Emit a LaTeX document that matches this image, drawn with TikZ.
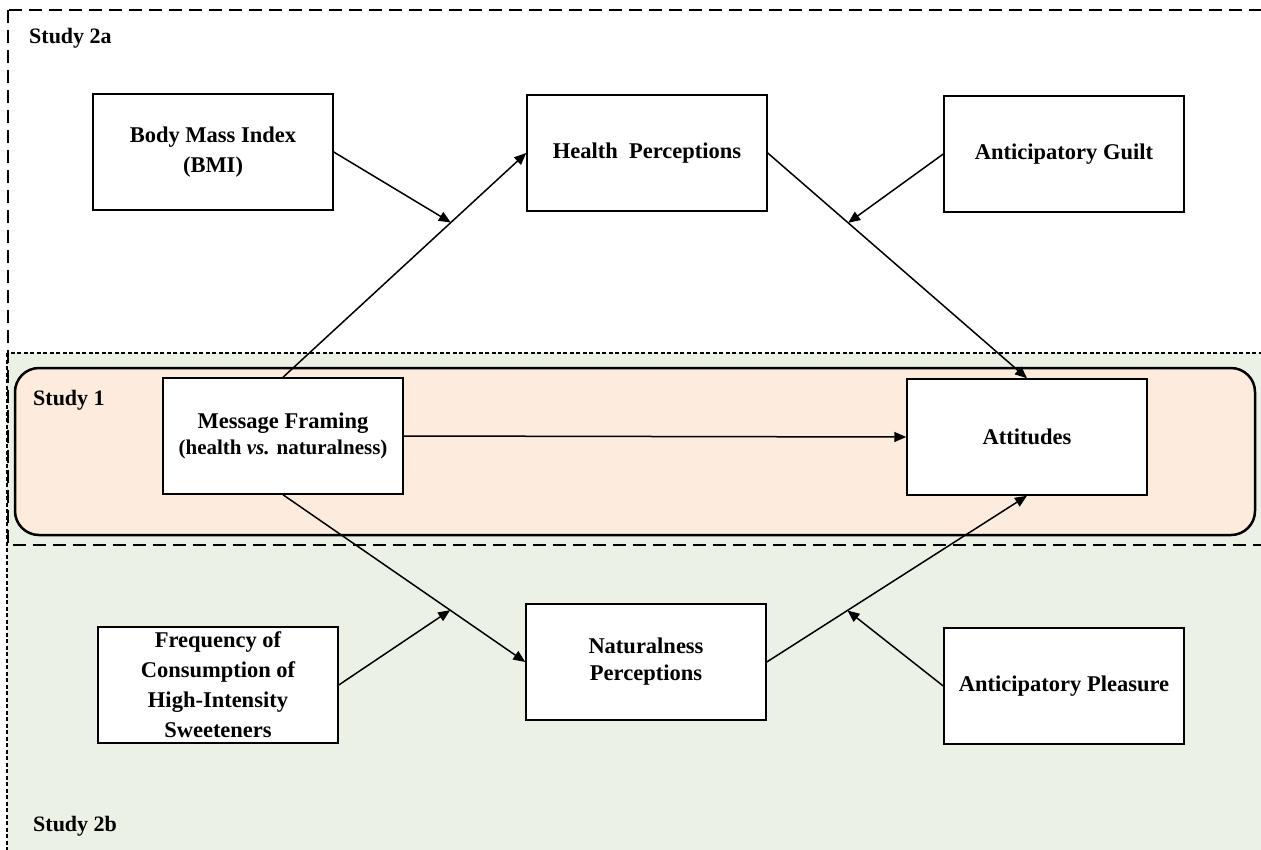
\documentclass[tikz,border=0pt]{standalone}
\usepackage{fontspec}
\setmainfont{Liberation Serif}
\usetikzlibrary{arrows.meta, calc}

\definecolor{studygreen}{HTML}{EBF1E5}
\definecolor{studypeach}{HTML}{FDEBDD}

\tikzset{
	varbox/.style={draw, fill=white, line width=1.5pt, minimum width=240pt, minimum height=116pt,
		align=center, inner sep=2pt, font=\fontsize{22.5}{30}\selectfont\bfseries},
	link/.style={-{Triangle[length=12pt, width=10pt]}, line width=1.5pt},
	studylabel/.style={anchor=west, inner sep=0pt, font=\fontsize{22}{26}\selectfont\bfseries}
}

\begin{document}
\begin{tikzpicture}[x=1pt, y=-1pt, line join=miter]
	\useasboundingbox (0,0) rectangle (1261,849);
	\begin{scope}
		\clip (0,0) rectangle (1261,849);
		% ===== Study regions =====
		\fill[studygreen] (7,353) rectangle (1300,900);
		\draw[line width=1.2pt, dash pattern=on 4pt off 2.5pt] (7,353) rectangle (1300,900);
		\draw[line width=1.5pt, dash pattern=on 13pt off 7pt] (8,10) rectangle (1300,545);
	\end{scope}
	\draw[fill=studypeach, line width=2.5pt, rounded corners=24pt] (15,368) rectangle (1255,535);
	
	\node[studylabel] (study2a) at (29,38) {Study 2a};
	\node[studylabel] (study1) at (33,400) {Study 1};
	\node[studylabel] (study2b) at (33,826) {Study 2b};
	
	% ===== Variables =====
	\node[varbox] (bmi) at (213,152) {Body Mass Index\\(BMI)};
	\node[varbox] (health) at (647,153) {Health\ \ Perceptions};
	\node[varbox] (guilt) at (1064,154) {Anticipatory Guilt};
	\node[varbox] (framing) at (283,436) {Message Framing\\[-4pt]{\fontsize{21}{24}\selectfont(health \textit{vs.} naturalness)}};
	\node[varbox] (attitudes) at (1027,437) {Attitudes};
	\node[varbox] (freq) at (218,685) {Frequency of\\Consumption of\\High-Intensity\\Sweeteners};
	\node[varbox] (natural) at (646,662) {Naturalness\\[-3pt]Perceptions};
	\node[varbox] (pleasure) at (1064,686) {Anticipatory Pleasure};
	
	% ===== Paths =====
	\draw[link] (framing.north) -- (health.west);
	\draw[link] (health.east) -- (attitudes.north);
	\draw[link] (framing.east) -- (attitudes.west);
	\draw[link] (framing.south) -- (natural.west);
	\draw[link] (natural.east) -- (attitudes.south);
	
	% moderators point at the paths
	\coordinate (modbmi) at ($(framing.north)!0.69!(health.west)$);
	\coordinate (modguilt) at ($(health.east)!0.31!(attitudes.north)$);
	\coordinate (modfreq) at ($(framing.south)!0.69!(natural.west)$);
	\coordinate (modpleasure) at ($(natural.east)!0.31!(attitudes.south)$);
	\draw[link] (bmi.east) -- (modbmi);
	\draw[link] (guilt.west) -- (modguilt);
	\draw[link] (freq.east) -- (modfreq);
	\draw[link] (pleasure.west) -- (modpleasure);
\end{tikzpicture}
\end{document}
